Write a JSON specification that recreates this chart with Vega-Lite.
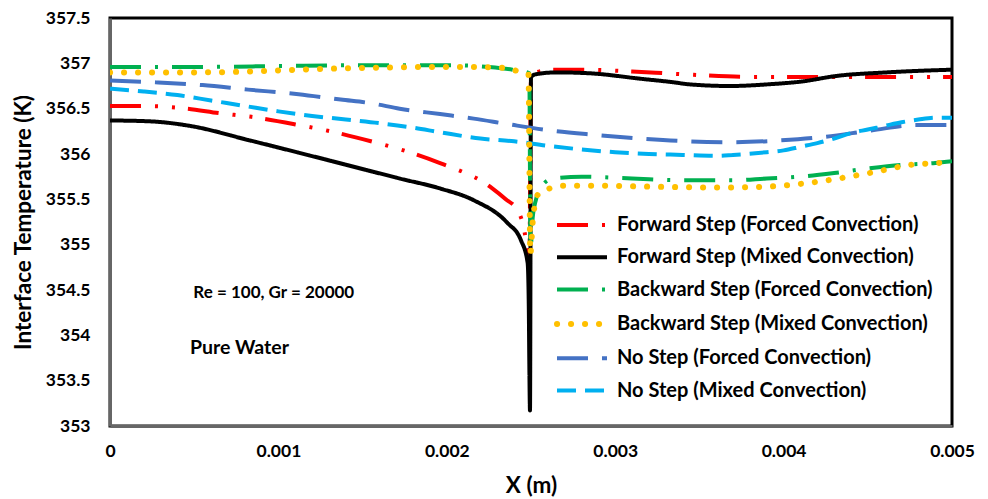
{
  "$schema": "https://vega.github.io/schema/vega-lite/v6.json",
  "width": 842,
  "height": 408,
  "autosize": {"type": "none"},
  "padding": {"left": 110, "top": 18, "right": 36, "bottom": 73},
  "background": "white",
  "config": {
    "font": "Lato",
    "view": {"stroke": "#000", "strokeWidth": 3},
    "axis": {"labelFont": "Lato", "labelFontWeight": "bold", "labelFontSize": 17.5, "labelColor": "#000", "titleFont": "Lato", "titleFontWeight": "bold", "titleFontSize": 22.5, "titleColor": "#000", "grid": false, "ticks": false, "tickSize": 0, "domainColor": "#666", "domainWidth": 3}
  },
  "datasets": {
    "curves": [
      {"s": "Forward Step (Forced Convection)", "x": 0, "t": 356.53},
      {"s": "Forward Step (Forced Convection)", "x": 0.00018, "t": 356.53},
      {"s": "Forward Step (Forced Convection)", "x": 0.00046, "t": 356.5},
      {"s": "Forward Step (Forced Convection)", "x": 0.00065, "t": 356.45},
      {"s": "Forward Step (Forced Convection)", "x": 0.00084, "t": 356.41},
      {"s": "Forward Step (Forced Convection)", "x": 0.00112, "t": 356.32},
      {"s": "Forward Step (Forced Convection)", "x": 0.00131, "t": 356.25},
      {"s": "Forward Step (Forced Convection)", "x": 0.00157, "t": 356.13},
      {"s": "Forward Step (Forced Convection)", "x": 0.00176, "t": 356.03},
      {"s": "Forward Step (Forced Convection)", "x": 0.00196, "t": 355.9},
      {"s": "Forward Step (Forced Convection)", "x": 0.00211, "t": 355.79},
      {"s": "Forward Step (Forced Convection)", "x": 0.0022, "t": 355.71},
      {"s": "Forward Step (Forced Convection)", "x": 0.00227, "t": 355.62},
      {"s": "Forward Step (Forced Convection)", "x": 0.00235, "t": 355.5},
      {"s": "Forward Step (Forced Convection)", "x": 0.00242, "t": 355.38},
      {"s": "Forward Step (Forced Convection)", "x": 0.00245, "t": 355.24},
      {"s": "Forward Step (Forced Convection)", "x": 0.00247, "t": 355.05},
      {"s": "Forward Step (Forced Convection)", "x": 0.00249, "t": 354.75},
      {"s": "Forward Step (Forced Convection)", "x": 0.0025, "t": 356.85},
      {"s": "Forward Step (Forced Convection)", "x": 0.00253, "t": 356.9},
      {"s": "Forward Step (Forced Convection)", "x": 0.00263, "t": 356.93},
      {"s": "Forward Step (Forced Convection)", "x": 0.0028, "t": 356.93},
      {"s": "Forward Step (Forced Convection)", "x": 0.0031, "t": 356.91},
      {"s": "Forward Step (Forced Convection)", "x": 0.0033, "t": 356.89},
      {"s": "Forward Step (Forced Convection)", "x": 0.0035, "t": 356.87},
      {"s": "Forward Step (Forced Convection)", "x": 0.0038, "t": 356.85},
      {"s": "Forward Step (Forced Convection)", "x": 0.0042, "t": 356.85},
      {"s": "Forward Step (Forced Convection)", "x": 0.0046, "t": 356.85},
      {"s": "Forward Step (Forced Convection)", "x": 0.005, "t": 356.85},

      {"s": "Forward Step (Mixed Convection)", "x": 0, "t": 356.37},
      {"s": "Forward Step (Mixed Convection)", "x": 0.00024, "t": 356.36},
      {"s": "Forward Step (Mixed Convection)", "x": 0.000475, "t": 356.31},
      {"s": "Forward Step (Mixed Convection)", "x": 0.00083, "t": 356.15},
      {"s": "Forward Step (Mixed Convection)", "x": 0.00113, "t": 356.01},
      {"s": "Forward Step (Mixed Convection)", "x": 0.00153, "t": 355.82},
      {"s": "Forward Step (Mixed Convection)", "x": 0.00172, "t": 355.73},
      {"s": "Forward Step (Mixed Convection)", "x": 0.00196, "t": 355.62},
      {"s": "Forward Step (Mixed Convection)", "x": 0.00216, "t": 355.49},
      {"s": "Forward Step (Mixed Convection)", "x": 0.00236, "t": 355.24},
      {"s": "Forward Step (Mixed Convection)", "x": 0.00244, "t": 355.05},
      {"s": "Forward Step (Mixed Convection)", "x": 0.00248, "t": 354.8},
      {"s": "Forward Step (Mixed Convection)", "x": 0.002487, "t": 354.3},
      {"s": "Forward Step (Mixed Convection)", "x": 0.00249, "t": 353.7},
      {"s": "Forward Step (Mixed Convection)", "x": 0.002494, "t": 353.17},
      {"s": "Forward Step (Mixed Convection)", "x": 0.0025, "t": 356.85},
      {"s": "Forward Step (Mixed Convection)", "x": 0.00253, "t": 356.88},
      {"s": "Forward Step (Mixed Convection)", "x": 0.00265, "t": 356.9},
      {"s": "Forward Step (Mixed Convection)", "x": 0.00285, "t": 356.89},
      {"s": "Forward Step (Mixed Convection)", "x": 0.00315, "t": 356.83},
      {"s": "Forward Step (Mixed Convection)", "x": 0.00335, "t": 356.79},
      {"s": "Forward Step (Mixed Convection)", "x": 0.00343, "t": 356.77},
      {"s": "Forward Step (Mixed Convection)", "x": 0.00368, "t": 356.75},
      {"s": "Forward Step (Mixed Convection)", "x": 0.00392, "t": 356.77},
      {"s": "Forward Step (Mixed Convection)", "x": 0.00411, "t": 356.8},
      {"s": "Forward Step (Mixed Convection)", "x": 0.00431, "t": 356.86},
      {"s": "Forward Step (Mixed Convection)", "x": 0.00461, "t": 356.9},
      {"s": "Forward Step (Mixed Convection)", "x": 0.005, "t": 356.93},

      {"s": "Backward Step (Forced Convection)", "x": 0, "t": 356.96},
      {"s": "Backward Step (Forced Convection)", "x": 0.0005, "t": 356.96},
      {"s": "Backward Step (Forced Convection)", "x": 0.001, "t": 356.97},
      {"s": "Backward Step (Forced Convection)", "x": 0.0015, "t": 356.98},
      {"s": "Backward Step (Forced Convection)", "x": 0.002, "t": 356.98},
      {"s": "Backward Step (Forced Convection)", "x": 0.00225, "t": 356.96},
      {"s": "Backward Step (Forced Convection)", "x": 0.00239, "t": 356.93},
      {"s": "Backward Step (Forced Convection)", "x": 0.00249, "t": 356.89},
      {"s": "Backward Step (Forced Convection)", "x": 0.002497, "t": 354.95},
      {"s": "Backward Step (Forced Convection)", "x": 0.00251, "t": 355.3},
      {"s": "Backward Step (Forced Convection)", "x": 0.00253, "t": 355.5},
      {"s": "Backward Step (Forced Convection)", "x": 0.00257, "t": 355.66},
      {"s": "Backward Step (Forced Convection)", "x": 0.00263, "t": 355.73},
      {"s": "Backward Step (Forced Convection)", "x": 0.0028, "t": 355.75},
      {"s": "Backward Step (Forced Convection)", "x": 0.0031, "t": 355.73},
      {"s": "Backward Step (Forced Convection)", "x": 0.0034, "t": 355.71},
      {"s": "Backward Step (Forced Convection)", "x": 0.0037, "t": 355.71},
      {"s": "Backward Step (Forced Convection)", "x": 0.0039, "t": 355.73},
      {"s": "Backward Step (Forced Convection)", "x": 0.0041, "t": 355.75},
      {"s": "Backward Step (Forced Convection)", "x": 0.0043, "t": 355.79},
      {"s": "Backward Step (Forced Convection)", "x": 0.0045, "t": 355.84},
      {"s": "Backward Step (Forced Convection)", "x": 0.0047, "t": 355.88},
      {"s": "Backward Step (Forced Convection)", "x": 0.0049, "t": 355.9},
      {"s": "Backward Step (Forced Convection)", "x": 0.005, "t": 355.92},

      {"s": "No Step (Forced Convection)", "x": 0, "t": 356.81},
      {"s": "No Step (Forced Convection)", "x": 0.00027, "t": 356.79},
      {"s": "No Step (Forced Convection)", "x": 0.00055, "t": 356.76},
      {"s": "No Step (Forced Convection)", "x": 0.00082, "t": 356.71},
      {"s": "No Step (Forced Convection)", "x": 0.00112, "t": 356.66},
      {"s": "No Step (Forced Convection)", "x": 0.00137, "t": 356.6},
      {"s": "No Step (Forced Convection)", "x": 0.00155, "t": 356.56},
      {"s": "No Step (Forced Convection)", "x": 0.00172, "t": 356.5},
      {"s": "No Step (Forced Convection)", "x": 0.00196, "t": 356.44},
      {"s": "No Step (Forced Convection)", "x": 0.00216, "t": 356.39},
      {"s": "No Step (Forced Convection)", "x": 0.00236, "t": 356.33},
      {"s": "No Step (Forced Convection)", "x": 0.00261, "t": 356.26},
      {"s": "No Step (Forced Convection)", "x": 0.00289, "t": 356.21},
      {"s": "No Step (Forced Convection)", "x": 0.00315, "t": 356.17},
      {"s": "No Step (Forced Convection)", "x": 0.00343, "t": 356.14},
      {"s": "No Step (Forced Convection)", "x": 0.0037, "t": 356.13},
      {"s": "No Step (Forced Convection)", "x": 0.00398, "t": 356.15},
      {"s": "No Step (Forced Convection)", "x": 0.00425, "t": 356.19},
      {"s": "No Step (Forced Convection)", "x": 0.00452, "t": 356.26},
      {"s": "No Step (Forced Convection)", "x": 0.00479, "t": 356.32},
      {"s": "No Step (Forced Convection)", "x": 0.005, "t": 356.32},

      {"s": "No Step (Mixed Convection)", "x": 0, "t": 356.72},
      {"s": "No Step (Mixed Convection)", "x": 0.0002, "t": 356.69},
      {"s": "No Step (Mixed Convection)", "x": 0.0004, "t": 356.65},
      {"s": "No Step (Mixed Convection)", "x": 0.0006, "t": 356.59},
      {"s": "No Step (Mixed Convection)", "x": 0.0008, "t": 356.53},
      {"s": "No Step (Mixed Convection)", "x": 0.001, "t": 356.47},
      {"s": "No Step (Mixed Convection)", "x": 0.0012, "t": 356.42},
      {"s": "No Step (Mixed Convection)", "x": 0.0014, "t": 356.38},
      {"s": "No Step (Mixed Convection)", "x": 0.0016, "t": 356.34},
      {"s": "No Step (Mixed Convection)", "x": 0.0018, "t": 356.29},
      {"s": "No Step (Mixed Convection)", "x": 0.00196, "t": 356.24},
      {"s": "No Step (Mixed Convection)", "x": 0.0022, "t": 356.17},
      {"s": "No Step (Mixed Convection)", "x": 0.0024, "t": 356.14},
      {"s": "No Step (Mixed Convection)", "x": 0.0026, "t": 356.09},
      {"s": "No Step (Mixed Convection)", "x": 0.0028, "t": 356.05},
      {"s": "No Step (Mixed Convection)", "x": 0.003, "t": 356.02},
      {"s": "No Step (Mixed Convection)", "x": 0.0032, "t": 356.0},
      {"s": "No Step (Mixed Convection)", "x": 0.0034, "t": 355.99},
      {"s": "No Step (Mixed Convection)", "x": 0.0036, "t": 355.98},
      {"s": "No Step (Mixed Convection)", "x": 0.0037, "t": 355.99},
      {"s": "No Step (Mixed Convection)", "x": 0.0039, "t": 356.02},
      {"s": "No Step (Mixed Convection)", "x": 0.004, "t": 356.04},
      {"s": "No Step (Mixed Convection)", "x": 0.0041, "t": 356.08},
      {"s": "No Step (Mixed Convection)", "x": 0.0042, "t": 356.12},
      {"s": "No Step (Mixed Convection)", "x": 0.0043, "t": 356.17},
      {"s": "No Step (Mixed Convection)", "x": 0.0044, "t": 356.23},
      {"s": "No Step (Mixed Convection)", "x": 0.0045, "t": 356.27},
      {"s": "No Step (Mixed Convection)", "x": 0.0046, "t": 356.31},
      {"s": "No Step (Mixed Convection)", "x": 0.0047, "t": 356.35},
      {"s": "No Step (Mixed Convection)", "x": 0.0048, "t": 356.38},
      {"s": "No Step (Mixed Convection)", "x": 0.0049, "t": 356.4},
      {"s": "No Step (Mixed Convection)", "x": 0.005, "t": 356.4}
    ],
    "dots": [
      {"s": "Backward Step (Mixed Convection)", "x": 0, "t": 356.9},
      {"s": "Backward Step (Mixed Convection)", "x": 0.0005, "t": 356.9},
      {"s": "Backward Step (Mixed Convection)", "x": 0.0015, "t": 356.95},
      {"s": "Backward Step (Mixed Convection)", "x": 0.00192, "t": 356.96},
      {"s": "Backward Step (Mixed Convection)", "x": 0.00214, "t": 356.96},
      {"s": "Backward Step (Mixed Convection)", "x": 0.00233, "t": 356.95},
      {"s": "Backward Step (Mixed Convection)", "x": 0.00241, "t": 356.92},
      {"s": "Backward Step (Mixed Convection)", "x": 0.002485, "t": 356.88},
      {"s": "Backward Step (Mixed Convection)", "x": 0.002496, "t": 354.9},
      {"s": "Backward Step (Mixed Convection)", "x": 0.00251, "t": 355.25},
      {"s": "Backward Step (Mixed Convection)", "x": 0.00254, "t": 355.55},
      {"s": "Backward Step (Mixed Convection)", "x": 0.00261, "t": 355.62},
      {"s": "Backward Step (Mixed Convection)", "x": 0.00269, "t": 355.65},
      {"s": "Backward Step (Mixed Convection)", "x": 0.0029, "t": 355.65},
      {"s": "Backward Step (Mixed Convection)", "x": 0.0032, "t": 355.64},
      {"s": "Backward Step (Mixed Convection)", "x": 0.0036, "t": 355.63},
      {"s": "Backward Step (Mixed Convection)", "x": 0.0039, "t": 355.64},
      {"s": "Backward Step (Mixed Convection)", "x": 0.0041, "t": 355.67},
      {"s": "Backward Step (Mixed Convection)", "x": 0.00426, "t": 355.71},
      {"s": "Backward Step (Mixed Convection)", "x": 0.00442, "t": 355.76},
      {"s": "Backward Step (Mixed Convection)", "x": 0.00459, "t": 355.82},
      {"s": "Backward Step (Mixed Convection)", "x": 0.00475, "t": 355.88},
      {"s": "Backward Step (Mixed Convection)", "x": 0.00491, "t": 355.9},
      {"s": "Backward Step (Mixed Convection)", "x": 0.005, "t": 355.91}
    ]
  },
  "layer": [
    {
      "data": {"name": "curves"},
      "mark": {"type": "line", "strokeWidth": 4, "strokeCap": "butt", "interpolate": "monotone", "clip": true},
      "encoding": {
        "x": {"field": "x", "type": "quantitative", "scale": {"domain": [0, 0.005], "nice": false, "zero": false},
          "axis": {"title": "X (m)", "values": [0, 0.001, 0.002, 0.003, 0.004, 0.005], "labelExpr": "datum.value", "labelPadding": 16, "titlePadding": 15, "labelFlush": false}},
        "y": {"field": "t", "type": "quantitative", "scale": {"domain": [353, 357.5], "nice": false, "zero": false},
          "axis": {"title": "Interface Temperature (K)", "values": [353, 353.5, 354, 354.5, 355, 355.5, 356, 356.5, 357, 357.5], "labelExpr": "datum.value", "labelPadding": 20, "titlePadding": 10}},
        "color": {"field": "s", "type": "nominal",
          "scale": {"domain": ["Forward Step (Forced Convection)", "Forward Step (Mixed Convection)", "Backward Step (Forced Convection)", "Backward Step (Mixed Convection)", "No Step (Forced Convection)", "No Step (Mixed Convection)"],
            "range": ["#FF0000", "#000000", "#00B050", "#FFC000", "#4472C4", "#00B0F0"]},
          "legend": {"title": null, "orient": "none", "legendX": 462, "legendY": 197, "symbolType": "stroke", "symbolSize": 2500, "symbolStrokeWidth": 4, "labelFont": "Lato", "labelFontWeight": "bold", "labelFontSize": 20, "labelColor": "#000", "labelOffset": 25, "rowPadding": 12.3, "labelLimit": 500,
            "encode": {"symbols": {"update": {
              "strokeCap": {"signal": "datum.value === 'Backward Step (Mixed Convection)' ? 'round' : 'butt'"},
              "strokeWidth": {"signal": "datum.value === 'Backward Step (Mixed Convection)' ? 6 : 4"}}}}}},
        "strokeDash": {"field": "s", "type": "nominal",
          "scale": {"domain": ["Forward Step (Forced Convection)", "Forward Step (Mixed Convection)", "Backward Step (Forced Convection)", "Backward Step (Mixed Convection)", "No Step (Forced Convection)", "No Step (Mixed Convection)"],
            "range": [[31, 14, 3, 14, 3, 13], [1, 0], [31, 14, 3, 14], [0.1, 13.9], [31, 14], [19, 9]]}}
      }
    },
    {
      "data": {"name": "dots"},
      "mark": {"type": "line", "strokeWidth": 6, "strokeCap": "round", "interpolate": "monotone", "clip": true},
      "encoding": {
        "x": {"field": "x", "type": "quantitative"},
        "y": {"field": "t", "type": "quantitative"},
        "color": {"field": "s", "type": "nominal"},
        "strokeDash": {"field": "s", "type": "nominal"}
      }
    },
    {
      "data": {"values": [{"label": "Re = 100, Gr = 20000"}]},
      "mark": {"type": "text", "align": "left", "baseline": "middle", "font": "Lato", "fontWeight": "bold", "fontSize": 17, "color": "#000"},
      "encoding": {"x": {"datum": 0.000495}, "y": {"datum": 354.47}, "text": {"field": "label"}}
    },
    {
      "data": {"values": [{"label": "Pure Water"}]},
      "mark": {"type": "text", "align": "left", "baseline": "middle", "font": "Lato", "fontWeight": "bold", "fontSize": 19.5, "color": "#000"},
      "encoding": {"x": {"datum": 0.000475}, "y": {"datum": 353.86}, "text": {"field": "label"}}
    }
  ]
}
